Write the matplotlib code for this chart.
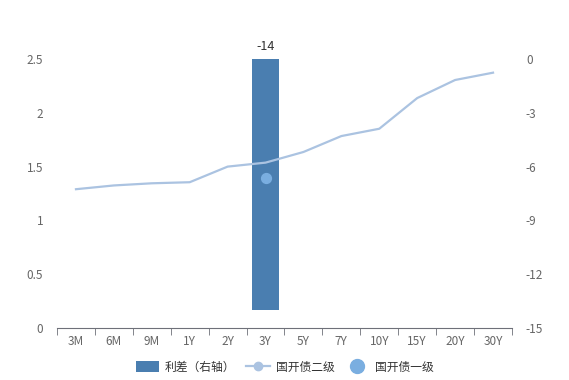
import matplotlib
matplotlib.use("Agg")
import matplotlib.pyplot as plt
from matplotlib.ticker import FixedLocator
from matplotlib.lines import Line2D
from matplotlib.patches import Patch

plt.rcParams["font.family"] = ["Noto Sans CJK SC", "DejaVu Sans"]
plt.rcParams["axes.unicode_minus"] = False

# data
tenors = ["3M", "6M", "9M", "1Y", "2Y", "3Y", "5Y", "7Y", "10Y", "15Y", "20Y", "30Y"]
secondary = [1.29, 1.325, 1.345, 1.355, 1.50, 1.537, 1.636, 1.784, 1.852, 2.137, 2.305, 2.373]
primary_tenor = "3Y"
primary_yield = 1.394
spread_tenor = "3Y"
spread_bp = -14

left_ticks = [0, 0.5, 1, 1.5, 2, 2.5]
right_ticks = [0, -3, -6, -9, -12, -15]

BAR_C = "#4a7eb0"
LINE_C = "#abc3e1"
DOT_C = "#7aaee0"
TXT_C = "#666666"
AX_C = "#6e7079"

fig = plt.figure(figsize=(5.69, 3.80), dpi=100)
ax = fig.add_axes([0.1002, 0.1368, 0.7996, 0.7079])
ax2 = ax.twinx()
# keep the line above the bar that lives on the right axis
ax.set_zorder(ax2.get_zorder() + 1)
ax.patch.set_visible(False)

x = list(range(len(tenors)))
xi = tenors.index(spread_tenor)
ax2.bar([xi], [spread_bp], width=0.69, color=BAR_C, label="利差（右轴）")
ax2.annotate(f"{spread_bp}", (xi, 0), xytext=(0, 4), textcoords="offset points",
             ha="center", va="bottom", fontsize=9, color="#333333")

ax.plot(x, secondary, color=LINE_C, linewidth=1.6, label="国开债二级")
ax.scatter([tenors.index(primary_tenor)], [primary_yield], s=50, color=DOT_C,
           zorder=3, label="国开债一级")

ax.set_xlim(-0.5, len(tenors) - 0.5)
ax.set_ylim(0, 2.5)
ax2.set_ylim(-15, 0)
ax.set_yticks(left_ticks)
ax.set_yticklabels([f"{t:g}" for t in left_ticks])
ax2.set_yticks(right_ticks)
ax2.set_yticklabels([f"{t:g}" for t in right_ticks])

ax.set_xticks(x)
ax.set_xticklabels(tenors)
ax.xaxis.set_minor_locator(FixedLocator([i - 0.5 for i in range(len(tenors) + 1)]))
ax.tick_params(axis="x", which="major", length=0, pad=5, labelsize=8.5, labelcolor=TXT_C)
ax.tick_params(axis="x", which="minor", length=5, color=AX_C)
ax.tick_params(axis="y", length=0, pad=10, labelsize=8.5, labelcolor=TXT_C)
ax2.tick_params(axis="y", length=0, pad=10, labelsize=8.5, labelcolor=TXT_C)
ax2.tick_params(axis="x", length=0)

for a in (ax, ax2):
    for s in ("top", "left", "right"):
        a.spines[s].set_visible(False)
ax2.spines["bottom"].set_visible(False)
ax.spines["bottom"].set_color(AX_C)

handles = [
    Patch(facecolor=BAR_C, label="利差（右轴）"),
    Line2D([], [], color=LINE_C, linewidth=1.6, marker="o", markersize=6,
           markerfacecolor=LINE_C, label="国开债二级"),
    Line2D([], [], color="none", marker="o", markersize=10,
           markerfacecolor=DOT_C, markeredgecolor=DOT_C, label="国开债一级"),
]
fig.legend(handles=handles, loc="center", bbox_to_anchor=(0.5, 0.034), ncol=3,
           frameon=False, fontsize=8.5, labelcolor="#333333", handlelength=2.0,
           handleheight=1.0, columnspacing=0.9, handletextpad=0.5)

fig.savefig("out.png", dpi=100)
